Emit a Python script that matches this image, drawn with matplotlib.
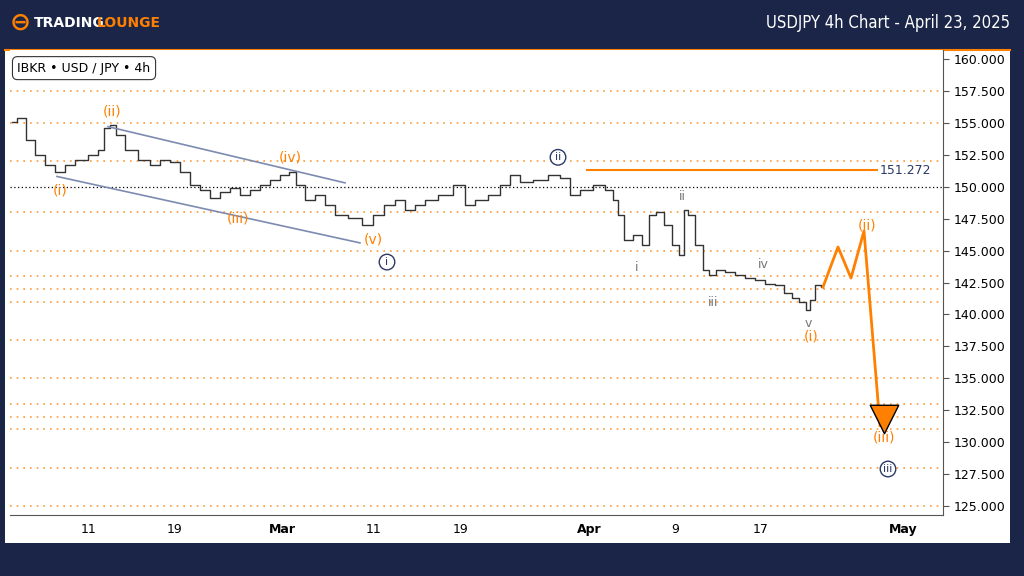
import matplotlib.pyplot as plt
from matplotlib.patches import Rectangle

# price path (x = time position, y = price)
xs = [12, 22, 30, 40, 50, 60, 70, 80, 95, 100, 108, 112, 120, 130, 145, 155, 165, 175, 185, 195,
      205, 215, 225, 235, 245, 255, 265, 275, 285, 292, 300, 310, 320, 330, 340, 355, 368, 378, 390,
      400, 410, 420, 430, 445, 460, 470, 480, 495, 505, 515, 525, 540, 555, 565, 575, 585, 600, 610,
      615, 620, 628, 638, 645, 652, 660, 668, 675, 682, 685, 690, 700, 705, 712, 720, 730, 740, 750,
      760, 770, 780, 788, 795, 803, 808, 812, 818, 823]
prices = [155.07, 155.38, 153.66, 152.48, 151.70, 151.15, 151.70, 152.09, 152.48, 152.87, 154.60,
          154.80, 154.05, 152.87, 152.09, 151.70, 152.09, 151.90, 151.15, 150.13, 149.74, 149.12,
          149.58, 149.90, 149.35, 149.74, 150.13, 150.52, 150.91, 151.15, 150.13, 148.96, 149.35,
          148.57, 147.78, 147.55, 147.00, 147.78, 148.57, 148.96, 148.18, 148.57, 148.96, 149.35,
          150.13, 148.57, 148.96, 149.35, 150.13, 150.91, 150.35, 150.52, 150.91, 150.70, 149.35,
          149.74, 150.13, 149.74, 148.96, 147.78, 145.83, 146.22, 145.43, 147.78, 148.02, 147.00,
          145.43, 144.65, 148.20, 147.78, 145.43, 143.48, 143.09, 143.48, 143.32, 143.09, 142.85,
          142.69, 142.38, 142.30, 141.68, 141.28, 140.97, 140.34, 141.13, 142.30, 142.15]

proj_x = [823, 838, 851, 864, 880]
proj_y = [142.15, 145.28, 142.85, 146.53, 131.3]

grid_levels = [157.5, 155, 152, 148, 145, 143, 142, 141, 138, 135, 133, 132, 131, 128, 125]
yticks = [125, 127.5, 130, 132.5, 135, 137.5, 140, 142.5, 145, 147.5, 150, 152.5, 155, 157.5, 160]
xtick_pos = [89, 175, 282, 374, 461, 589, 675, 761, 903]
xtick_lab = ['11', '19', 'Mar', '11', '19', 'Apr', '9', '17', 'May']
resistance = 151.272

orange = '#ff8000'
navy = '#2b3a67'
gray = '#777777'

fig = plt.figure(figsize=(10.24, 5.76), dpi=100, facecolor='#1a2548')
bg = fig.add_axes([5 / 1024, 33 / 576, 1005 / 1024, 493 / 576], zorder=-1)
bg.set_xticks([])
bg.set_yticks([])
bg.set_facecolor('white')
for s in bg.spines.values():
    s.set_visible(False)
bg.spines['top'].set_visible(True)
bg.spines['top'].set_color(orange)
bg.spines['top'].set_linewidth(1.5)

ax = fig.add_axes([10 / 1024, 61 / 576, 933 / 1024, 465 / 576])
ax.set_facecolor('white')
ax.set_xlim(10, 943)
ax.set_ylim(124.3, 160.7)

for lv in grid_levels:
    ax.axhline(lv, color=orange, ls=(0, (1, 3)), lw=1.2, alpha=0.8)
ax.axhline(150, color='black', ls=(0, (1, 2)), lw=0.9)

ax.plot(xs, prices, color='#333333', lw=1.0, drawstyle='steps-mid')
ax.plot(proj_x, proj_y, color=orange, lw=2)
ax.scatter([884], [131.8], marker='v', s=420, color=orange, edgecolor='black', lw=1, zorder=5)

ax.plot([587, 877], [resistance, resistance], color=orange, lw=1.5)
ax.text(905, resistance, '151.272', color=navy, fontsize=9, ha='center', va='center')

# channel
ax.plot([108, 345], [154.7, 150.3], color='#7d8bb0', lw=1.2)
ax.plot([57, 360], [150.8, 145.6], color='#7d8bb0', lw=1.2)

def lab(x, y, s, c, fs=10):
    ax.text(x, y, s, color=c, fontsize=fs, ha='center', va='center')

lab(60, 149.7, '(i)', orange)
lab(112, 155.9, '(ii)', orange)
lab(238, 147.5, '(iii)', orange)
lab(290, 152.3, '(iv)', orange)
lab(373, 145.9, '(v)', orange)
lab(811, 138.3, '(i)', orange)
lab(867, 147.0, '(ii)', orange)
lab(884, 130.4, '(iii)', orange)
for x, y, s in [(637, 143.7, 'i'), (682, 149.2, 'ii'), (713, 140.9, 'iii'), (763, 143.9, 'iv'),
                (808, 139.3, 'v')]:
    lab(x, y, s, gray, 9)
for x, y, s in [(387, 144.1, 'i'), (558, 152.3, 'ii'), (888, 127.9, 'iii')]:
    ax.text(x, y, s, color=navy, fontsize=8, ha='center', va='center',
            bbox=dict(boxstyle='circle,pad=0.25', fc='white', ec=navy, lw=1))

ax.set_xticks(xtick_pos)
ax.set_xticklabels(xtick_lab, fontsize=9)
for t, l in zip(ax.get_xticklabels(), xtick_lab):
    if l in ('Mar', 'Apr', 'May'):
        t.set_fontweight('bold')
ax.tick_params(axis='x', length=0, pad=6)
ax.yaxis.tick_right()
ax.set_yticks(yticks)
ax.set_yticklabels(['%.3f' % v for v in yticks], fontsize=9)
ax.tick_params(axis='y', length=4, color='#555555')
for s in ['top', 'left']:
    ax.spines[s].set_visible(False)
for s in ['right', 'bottom']:
    ax.spines[s].set_color('#555555')

ax.text(0.008, 0.975, 'IBKR • USD / JPY • 4h', transform=ax.transAxes, fontsize=9, va='top',
        bbox=dict(boxstyle='round,pad=0.4', fc='white', ec='#333333', lw=0.8))

fig.text(10 / 1024, 1 - 23 / 576, '\u2296', color=orange, fontsize=18, va='center', fontweight='bold')
fig.text(34 / 1024, 1 - 23 / 576, 'TRADING', color='white', fontsize=10, va='center', fontweight='bold')
fig.text(97 / 1024, 1 - 23 / 576, 'LOUNGE', color=orange, fontsize=10, va='center', fontweight='bold')
fig.text(1010 / 1024, 1 - 23 / 576, 'USDJPY 4h Chart - April 23, 2025', color='white', fontsize=12,
         ha='right', va='center', fontstretch='condensed')

fig.savefig('out.png', dpi=100, facecolor=fig.get_facecolor())
